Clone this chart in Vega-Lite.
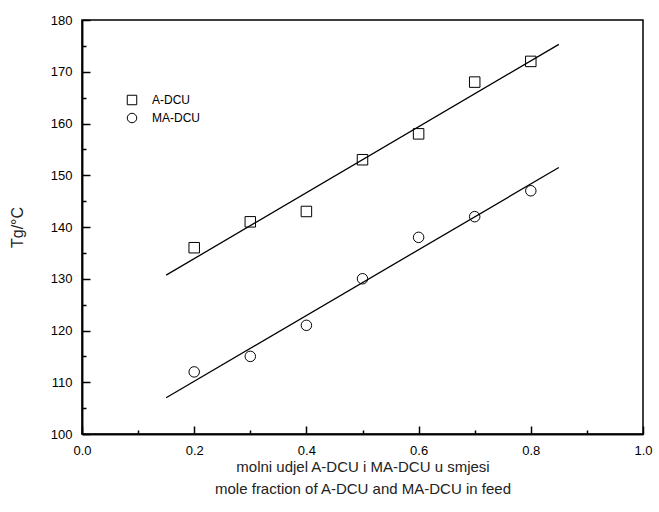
{
  "$schema": "https://vega.github.io/schema/vega-lite/v6.json",
  "width": 561,
  "height": 414,
  "autosize": {"type": "none"},
  "padding": {"left": 82, "top": 20, "right": 16, "bottom": 78},
  "background": "white",
  "config": {
    "font": "Liberation Sans",
    "view": {"stroke": "black", "strokeWidth": 1.5},
    "axis": {
      "domainColor": "black",
      "domainWidth": 1.5,
      "tickColor": "black",
      "tickWidth": 1.5,
      "labelFont": "Liberation Sans",
      "labelFontSize": 13,
      "labelColor": "black",
      "titleFont": "Liberation Sans",
      "titleFontWeight": "normal",
      "titleColor": "#222",
      "grid": false
    }
  },
  "datasets": {
    "pts": [
      {"series": "A-DCU", "x": 0.2, "y": 136},
      {"series": "A-DCU", "x": 0.3, "y": 141},
      {"series": "A-DCU", "x": 0.4, "y": 143},
      {"series": "A-DCU", "x": 0.5, "y": 153},
      {"series": "A-DCU", "x": 0.6, "y": 158},
      {"series": "A-DCU", "x": 0.7, "y": 168},
      {"series": "A-DCU", "x": 0.8, "y": 172},
      {"series": "MA-DCU", "x": 0.2, "y": 112},
      {"series": "MA-DCU", "x": 0.3, "y": 115},
      {"series": "MA-DCU", "x": 0.4, "y": 121},
      {"series": "MA-DCU", "x": 0.5, "y": 130},
      {"series": "MA-DCU", "x": 0.6, "y": 138},
      {"series": "MA-DCU", "x": 0.7, "y": 142},
      {"series": "MA-DCU", "x": 0.8, "y": 147}
    ],
    "fit": [
      {"series": "A-DCU", "x": 0.15, "y": 130.7},
      {"series": "A-DCU", "x": 0.85, "y": 175.3},
      {"series": "MA-DCU", "x": 0.15, "y": 107.0},
      {"series": "MA-DCU", "x": 0.85, "y": 151.5}
    ]
  },
  "resolve": {"axis": {"x": "independent", "y": "independent"}},
  "layer": [
    {
      "data": {"name": "fit"},
      "mark": {"type": "line", "color": "black", "strokeWidth": 1.3},
      "encoding": {
        "x": {
          "field": "x",
          "type": "quantitative",
          "scale": {"domain": [0, 1], "nice": false, "zero": false},
          "axis": {
            "orient": "bottom",
            "values": [0, 0.2, 0.4, 0.6, 0.8, 1.0],
            "format": ".1f",
            "tickSize": -8,
            "labelPadding": 18,
            "labelFlush": false,
            "labelOverlap": false,
            "title": ["molni udjel A-DCU i MA-DCU u smjesi", "mole fraction of A-DCU and MA-DCU in feed"],
            "titleFontSize": 15,
            "titleLineHeight": 22,
            "titlePadding": 2
          }
        },
        "y": {
          "field": "y",
          "type": "quantitative",
          "scale": {"domain": [100, 180], "nice": false, "zero": false},
          "axis": {
            "orient": "left",
            "values": [100, 110, 120, 130, 140, 150, 160, 170, 180],
            "tickSize": -8,
            "labelPadding": 18,
            "labelFlush": false,
            "labelOverlap": false,
            "title": "Tg/°C",
            "titleFontSize": 16,
            "titlePadding": 25
          }
        },
        "detail": {"field": "series"}
      }
    },
    {
      "data": {"name": "pts"},
      "mark": {"type": "point", "filled": false, "color": "black", "strokeWidth": 1, "size": 110, "opacity": 1},
      "encoding": {
        "x": {
          "field": "x",
          "type": "quantitative",
          "axis": {
            "orient": "bottom",
            "values": [0.1, 0.3, 0.5, 0.7, 0.9],
            "tickSize": -4,
            "labels": false,
            "title": null
          }
        },
        "y": {
          "field": "y",
          "type": "quantitative",
          "axis": {
            "orient": "left",
            "values": [105, 115, 125, 135, 145, 155, 165, 175],
            "tickSize": -4,
            "labels": false,
            "title": null
          }
        },
        "shape": {
          "field": "series",
          "type": "nominal",
          "scale": {"domain": ["A-DCU", "MA-DCU"], "range": ["square", "circle"]},
          "legend": {
            "title": null,
            "orient": "none",
            "legendX": 44,
            "legendY": 74,
            "labelFont": "Liberation Sans",
            "labelFontSize": 12,
            "labelColor": "black",
            "symbolSize": 90,
            "symbolStrokeColor": "black",
            "symbolStrokeWidth": 1,
            "rowPadding": 4,
            "labelOffset": 14
          }
        }
      }
    }
  ]
}
